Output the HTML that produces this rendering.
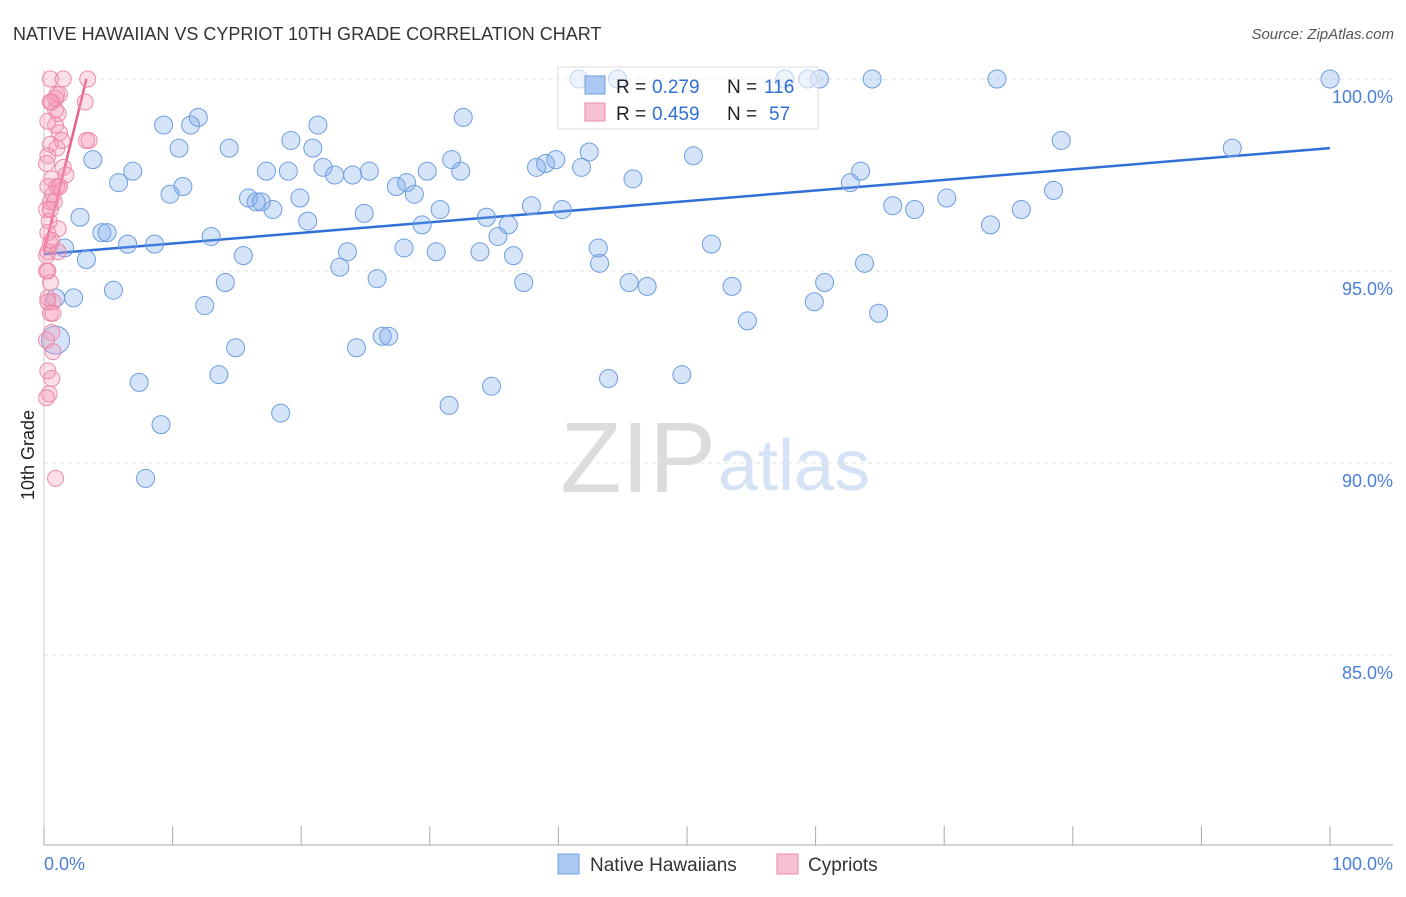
<!DOCTYPE html>
<html><head><meta charset="utf-8">
<style>
body{margin:0;background:#fff;font-family:"Liberation Sans",sans-serif;}
svg text{font-family:"Liberation Sans",sans-serif;}
</style></head>
<body>
<svg id="chart" width="1406" height="892" viewBox="0 0 1406 892">
<text x="13" y="40" font-size="18" fill="#333">NATIVE HAWAIIAN VS CYPRIOT 10TH GRADE CORRELATION CHART</text>
<text x="1394" y="39" font-size="15" fill="#555" text-anchor="end" font-style="italic">Source: ZipAtlas.com</text>
<text x="0" y="0" font-size="18" fill="#222" transform="translate(34,455) rotate(-90)" text-anchor="middle">10th Grade</text>
<text x="716" y="492" font-size="100" fill="#dcdcdc" text-anchor="end" font-family="Liberation Serif">ZIP</text>
<text x="718" y="490" font-size="72" fill="#d6e2f5">atlas</text>
<g id="grid"></g>
<g id="xaxis"></g>
<g id="lines"></g>
<g id="pts"></g>
<g>
<rect x="558" y="67" width="260" height="62" fill="rgba(255,255,255,0.55)" stroke="#ddd"/>
<rect x="585" y="76" width="20" height="18" fill="#aac8f2" stroke="#6d9de0"/>
<text x="616" y="93" font-size="19" fill="#222">R =</text>
<text x="652" y="93" font-size="19" fill="#2f6fd6">0.279</text>
<text x="727" y="93" font-size="19" fill="#222">N =</text>
<text x="764" y="93" font-size="19" fill="#2f6fd6">116</text>
<rect x="585" y="103" width="20" height="18" fill="#f8c2d4" stroke="#ee8aaa"/>
<text x="616" y="120" font-size="19" fill="#222">R =</text>
<text x="652" y="120" font-size="19" fill="#2f6fd6">0.459</text>
<text x="727" y="120" font-size="19" fill="#222">N =</text>
<text x="769" y="120" font-size="19" fill="#2f6fd6">57</text>
</g>
<g>
<rect x="558" y="854" width="21" height="20" fill="#aac8f2" stroke="#6d9de0"/>
<text x="590" y="871" font-size="19" fill="#333">Native Hawaiians</text>
<rect x="777" y="854" width="21" height="20" fill="#f8c2d4" stroke="#ee8aaa"/>
<text x="808" y="871" font-size="19" fill="#333">Cypriots</text>
</g>
</svg>
<script>
const yTicks=[100,95,90,85];
const yTickLabels=["100.0%","95.0%","90.0%","85.0%"];
const xTicks=[0,10,20,30,40,50,60,70,80,90,100];
const xTickLabels=["0.0%","100.0%"];
const blueX=[41.6,44.6,57.6,60.3,64.4,74.1,100,59.4,9.3,11.4,12.0,21.3,32.6,19.2,10.5,14.4,3.8,6.9,5.8,10.8,9.8,17.3,19.0,20.9,21.7,22.6,24.0,25.3,27.4,28.2,28.8,29.8,31.7,32.4,38.3,39.0,39.8,41.8,42.4,45.8,50.5,62.7,63.5,79.1,92.4,78.5,70.2,67.7,66.0,76.0,73.6,19.9,15.9,16.5,16.9,17.8,20.5,24.9,30.8,29.4,34.4,35.3,36.1,37.9,40.3,2.8,4.5,4.9,6.5,8.6,13.0,15.5,23.6,28.0,30.5,33.9,36.5,43.1,43.2,51.9,23.0,25.9,37.3,45.5,46.9,53.5,60.7,63.8,1.6,3.3,5.4,2.3,0.9,12.5,14.1,54.7,59.9,64.9,14.9,24.3,26.3,26.8,13.6,7.4,43.9,49.6,34.8,18.4,31.5,9.1,7.9,0.9];
const blueY=[100,100,100,100,100,100,100,100,98.8,98.8,99.0,98.8,99.0,98.4,98.2,98.2,97.9,97.6,97.3,97.2,97.0,97.6,97.6,98.2,97.7,97.5,97.5,97.6,97.2,97.3,97.0,97.6,97.9,97.6,97.7,97.8,97.9,97.7,98.1,97.4,98.0,97.3,97.6,98.4,98.2,97.1,96.9,96.6,96.7,96.6,96.2,96.9,96.9,96.8,96.8,96.6,96.3,96.5,96.6,96.2,96.4,95.9,96.2,96.7,96.6,96.4,96.0,96.0,95.7,95.7,95.9,95.4,95.5,95.6,95.5,95.5,95.4,95.6,95.2,95.7,95.1,94.8,94.7,94.7,94.6,94.6,94.7,95.2,95.6,95.3,94.5,94.3,94.3,94.1,94.7,93.7,94.2,93.9,93.0,93.0,93.3,93.3,92.3,92.1,92.2,92.3,92.0,91.3,91.5,91.0,89.6,93.2];
const pinkX=[0.5,1.5,3.4,1.0,0.6,1.2,3.2,0.9,1.1,1.2,3.5,3.3,0.5,1.0,0.3,1.5,1.7,0.6,1.0,0.3,1.2,0.7,0.5,0.2,0.4,0.3,0.5,1.1,0.2,0.3,0.5,0.3,0.7,0.5,0.6,0.7,0.3,0.6,0.4,0.2,0.9,0.3,0.6,1.1,0.2,0.9,1.4,0.3,0.5,0.9,0.8,0.2,0.3,0.2,0.7,1.2,0.5];
const pinkY=[100,100,100,99.6,99.4,99.6,99.4,99.2,99.1,98.6,98.4,98.4,98.3,98.2,98.0,97.7,97.5,97.4,97.2,97.2,97.2,97.0,96.8,96.6,96.3,96.0,95.7,95.5,95.4,95.0,94.7,94.3,94.2,93.9,93.4,92.9,92.4,92.2,91.8,91.7,89.6,95.5,95.8,96.1,97.8,98.8,98.4,98.9,99.4,99.5,96.8,95.0,94.2,93.2,93.9,97.2,96.6];
const blueFit=[[0,95.44],[100,98.2]];
const pinkFit=[[0,95.5],[3.3,100]];
const X0=44,X1=1330,YTOP=79,YBOT=847;
function sx(v){return X0+(X1-X0)*v/100;}
function sy(v){return YTOP+(100-v)*(YBOT-YTOP)/20;}
const NS="http://www.w3.org/2000/svg";
function mk(tag,attrs,parent){const e=document.createElementNS(NS,tag);for(const k in attrs)e.setAttribute(k,attrs[k]);parent.appendChild(e);return e;}
const grid=document.getElementById('grid');
yTicks.forEach((t,i)=>{
 const l=mk('line',{x1:44,x2:1393,y1:sy(t),y2:sy(t),stroke:'#e0e0e0','stroke-dasharray':'4,4'},grid);
 
 
 const tx=mk('text',{x:1393,y:sy(t)+24,'font-size':18,fill:'#4a7fd4','text-anchor':'end'},grid);
 tx.textContent=yTickLabels[i];
 
 
});
const xa=document.getElementById('xaxis');
const ax=mk('line',{x1:44,x2:1393,y1:845,y2:845,stroke:'#aaa'},xa);


const yl=mk('line',{x1:44,x2:44,y1:70,y2:845,stroke:'#ccc'},xa);


xTicks.forEach(t=>{
 const l=mk('line',{x1:sx(t),x2:sx(t),y1:826,y2:845,stroke:'#aaa'},xa);
 
 
});
const xl0=mk('text',{x:44,y:870,'font-size':18,fill:'#4a7fd4'},xa);xl0.textContent=xTickLabels[0];


const xl1=mk('text',{x:1393,y:870,'font-size':18,fill:'#4a7fd4','text-anchor':'end'},xa);xl1.textContent=xTickLabels[1];


const pts=document.getElementById('pts');
blueX.forEach((x,i)=>{
 const c=mk('circle',{cx:sx(x),cy:sy(blueY[i]),r:(i===blueX.length-1?14:9),fill:'rgba(120,165,235,0.3)',stroke:'#6d9de0','stroke-width':1},pts);
 
 
});
pinkX.forEach((x,i)=>{
 const c=mk('circle',{cx:sx(x),cy:sy(pinkY[i]),r:8,fill:'rgba(245,150,180,0.3)',stroke:'#ee8aaa','stroke-width':1},pts);
 
 
});
const lines=document.getElementById('lines');
const bl=mk('line',{x1:sx(blueFit[0][0]),y1:sy(blueFit[0][1]),x2:sx(blueFit[1][0]),y2:sy(blueFit[1][1]),stroke:'#2f6fd6','stroke-width':2.5},lines);


const pl=mk('line',{x1:sx(pinkFit[0][0]),y1:sy(pinkFit[0][1]),x2:sx(pinkFit[1][0]),y2:sy(pinkFit[1][1]),stroke:'#e8608e','stroke-width':2.5},lines);


</script>
</body></html>
